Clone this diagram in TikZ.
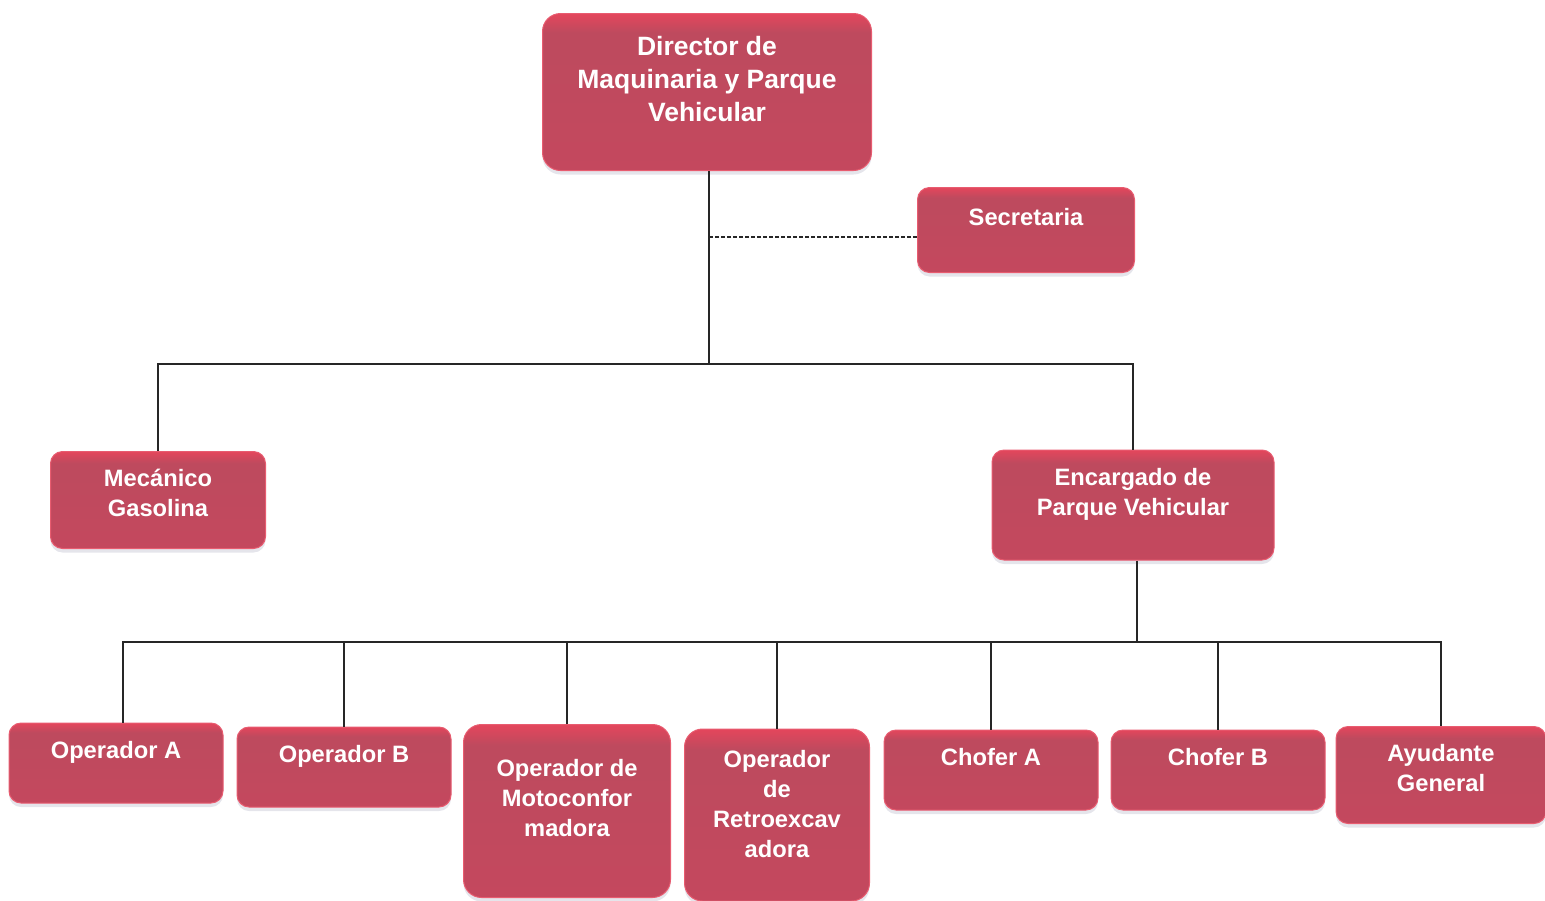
\documentclass[tikz,border=0pt]{standalone}
\usepackage{fontspec}
\setmainfont{Liberation Sans}
\usetikzlibrary{positioning,shadows}

\definecolor{boxtop}{RGB}{228,70,92}
\definecolor{boxmid}{RGB}{190,74,94}
\definecolor{boxbot}{RGB}{196,72,94}
\definecolor{boxline}{RGB}{232,92,112}
\pgfdeclareverticalshading{puestoshade}{100bp}{color(0bp)=(boxbot); color(25bp)=(boxbot);
  color(62bp)=(boxmid); color(69bp)=(boxmid); color(75bp)=(boxtop); color(100bp)=(boxtop)}

\begin{document}
\begin{tikzpicture}[
    x=1pt, y=-1pt,
    every node/.style = {align=center, text=white, font=\bfseries\fontsize{23.7}{30}\selectfont},
    puesto/.style = {rectangle, rounded corners=12pt, draw=boxline, line width=1pt,
                     shading=puestoshade, text depth=26pt,
                     drop shadow={shadow xshift=0pt, shadow yshift=-4pt, fill=blue!15!gray!30, opacity=0.6},
                     inner sep=0pt},
    linea/.style = {draw=black!85, line width=1.2pt},
  ]
    \useasboundingbox (0,0) rectangle (1545,900);

    % director y secretaria
    \node[puesto, minimum width=329pt, minimum height=157pt, rounded corners=18pt,
          font=\bfseries\fontsize{26.5}{33}\selectfont] (dir) at (707,92)
          {Director de\\Maquinaria y Parque\\Vehicular};
    \node[puesto, minimum width=217pt, minimum height=85pt] (sec) at (1026,230) {Secretaria};

    % segundo nivel
    \node[puesto, minimum width=215pt, minimum height=97pt, text depth=14pt] (mec) at (158,500) {Mecánico\\Gasolina};
    \node[puesto, minimum width=282pt, minimum height=110pt] (enc) at (1133,505) {Encargado de\\Parque Vehicular};

    % tercer nivel
    \node[puesto, minimum width=214pt, minimum height=80pt] (opa) at (116,763) {Operador A};
    \node[puesto, minimum width=214pt, minimum height=80pt] (opb) at (344,767) {Operador B};
    \node[puesto, minimum width=207pt, minimum height=173pt, rounded corners=18pt] (mot) at (567,811) {Operador de\\Motoconfor\\madora};
    \node[puesto, minimum width=185pt, minimum height=172pt, rounded corners=18pt, text depth=22pt] (ret) at (777,815) {Operador\\de\\Retroexcav\\adora};
    \node[puesto, minimum width=214pt, minimum height=80pt] (cha) at (991,770) {Chofer A};
    \node[puesto, minimum width=214pt, minimum height=80pt] (chb) at (1218,770) {Chofer B};
    \node[puesto, minimum width=210pt, minimum height=97pt, text depth=14pt] (ayu) at (1441,775) {Ayudante\\General};

    \coordinate (bus1) at (709,364);
    \coordinate (bus2) at (1137,642);

    % conectores
    \draw[linea] (dir.south -| bus1) -- (bus1);
    \draw[linea] (mec.north) |- (bus1) -| (enc.north);
    \draw[linea, dash pattern=on 4pt off 2pt] ([yshift=-7pt]sec.west) -- ([yshift=-7pt]sec.west -| bus1);
    \draw[linea] (enc.south -| bus2) -- (bus2);
    \draw[linea] ([xshift=7pt]opa.north) |- (ayu.north |- bus2) -- (ayu.north);
    \foreach \n in {opb,mot,ret,cha,chb}
      \draw[linea] (\n.north) -- (\n.north |- bus2);
\end{tikzpicture}
\end{document}
